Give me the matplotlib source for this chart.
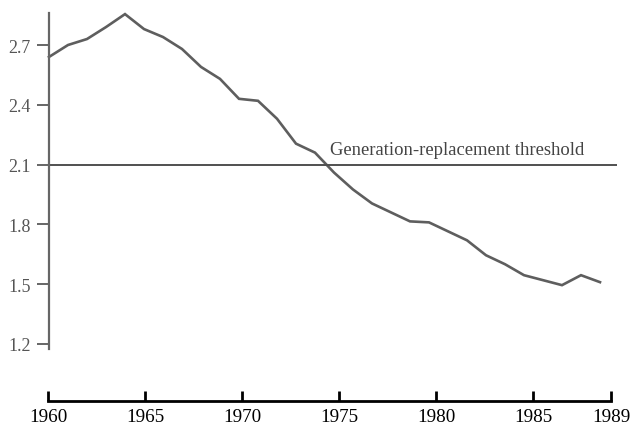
import matplotlib
matplotlib.use("Agg")
import matplotlib.pyplot as plt

years = list(range(1960, 1990))
fertility = [2.64, 2.70, 2.73, 2.79, 2.855, 2.78, 2.74, 2.68, 2.59, 2.53,
             2.43, 2.42, 2.33, 2.205, 2.16, 2.06, 1.975, 1.905, 1.86, 1.815,
             1.81, 1.765, 1.72, 1.645, 1.60, 1.545, 1.52, 1.495, 1.545, 1.51]
threshold = 2.1
threshold_label = "Generation-replacement threshold"
yticks = [1.2, 1.5, 1.8, 2.1, 2.4, 2.7]
xticks = [1960, 1965, 1970, 1975, 1980, 1985, 1989]

W, H = 631, 427
fig = plt.figure(figsize=(W / 100, H / 100), dpi=100)
serif = ["Liberation Serif", "DejaVu Serif"]

# main plotting axes
left_px, right_px, top_px, bot_px = 49, 617, 14, 350
ax = fig.add_axes([left_px / W, 1 - bot_px / H, (right_px - left_px) / W, (bot_px - top_px) / H])
px_per_year = 19.0
ax.set_xlim(1960, 1960 + (right_px - left_px) / px_per_year)
scale = 199.3
ax.set_ylim(2.7 - (bot_px - 46) / scale, 2.7 + (46 - top_px) / scale)

ax.plot(years, fertility, color="#5e5e5e", lw=1.9, clip_on=False, solid_joinstyle="miter")
ax.axhline(threshold, color="#505050", lw=1.4)
ax.text(1974.8, threshold + 0.033, threshold_label, family=serif, fontsize=13.4,
        color="#444444", ha="left", va="bottom")

for s in ["top", "right", "bottom"]:
    ax.spines[s].set_visible(False)
ax.spines["left"].set_color("#666666")
ax.spines["left"].set_linewidth(1.6)
ax.set_xticks([])
ax.set_yticks(yticks)
ax.set_yticklabels([f"{v:.1f}" for v in yticks], family=serif, fontsize=13, color="#555555")
ax.tick_params(axis="y", direction="out", length=9, width=1.4, color="#666666", pad=4)
ax.patch.set_alpha(0)

# bottom year scale
bl, br, by = 48, 611, 402
bx = fig.add_axes([bl / W, 1 - by / H, (br - bl) / W, 0.0001])
bx.set_xlim(1960, 1989)
for s in ["top", "right", "left"]:
    bx.spines[s].set_visible(False)
bx.spines["bottom"].set_color("black")
bx.spines["bottom"].set_linewidth(2.0)
bx.set_yticks([])
bx.set_xticks(xticks)
bx.set_xticklabels([str(v) for v in xticks], family=serif, fontsize=13.8, color="black")
bx.tick_params(axis="x", direction="in", length=7, width=2.0, color="black", pad=5)
bx.spines["bottom"].set_bounds(1960, 1989)

fig.savefig("out.png", dpi=100)
